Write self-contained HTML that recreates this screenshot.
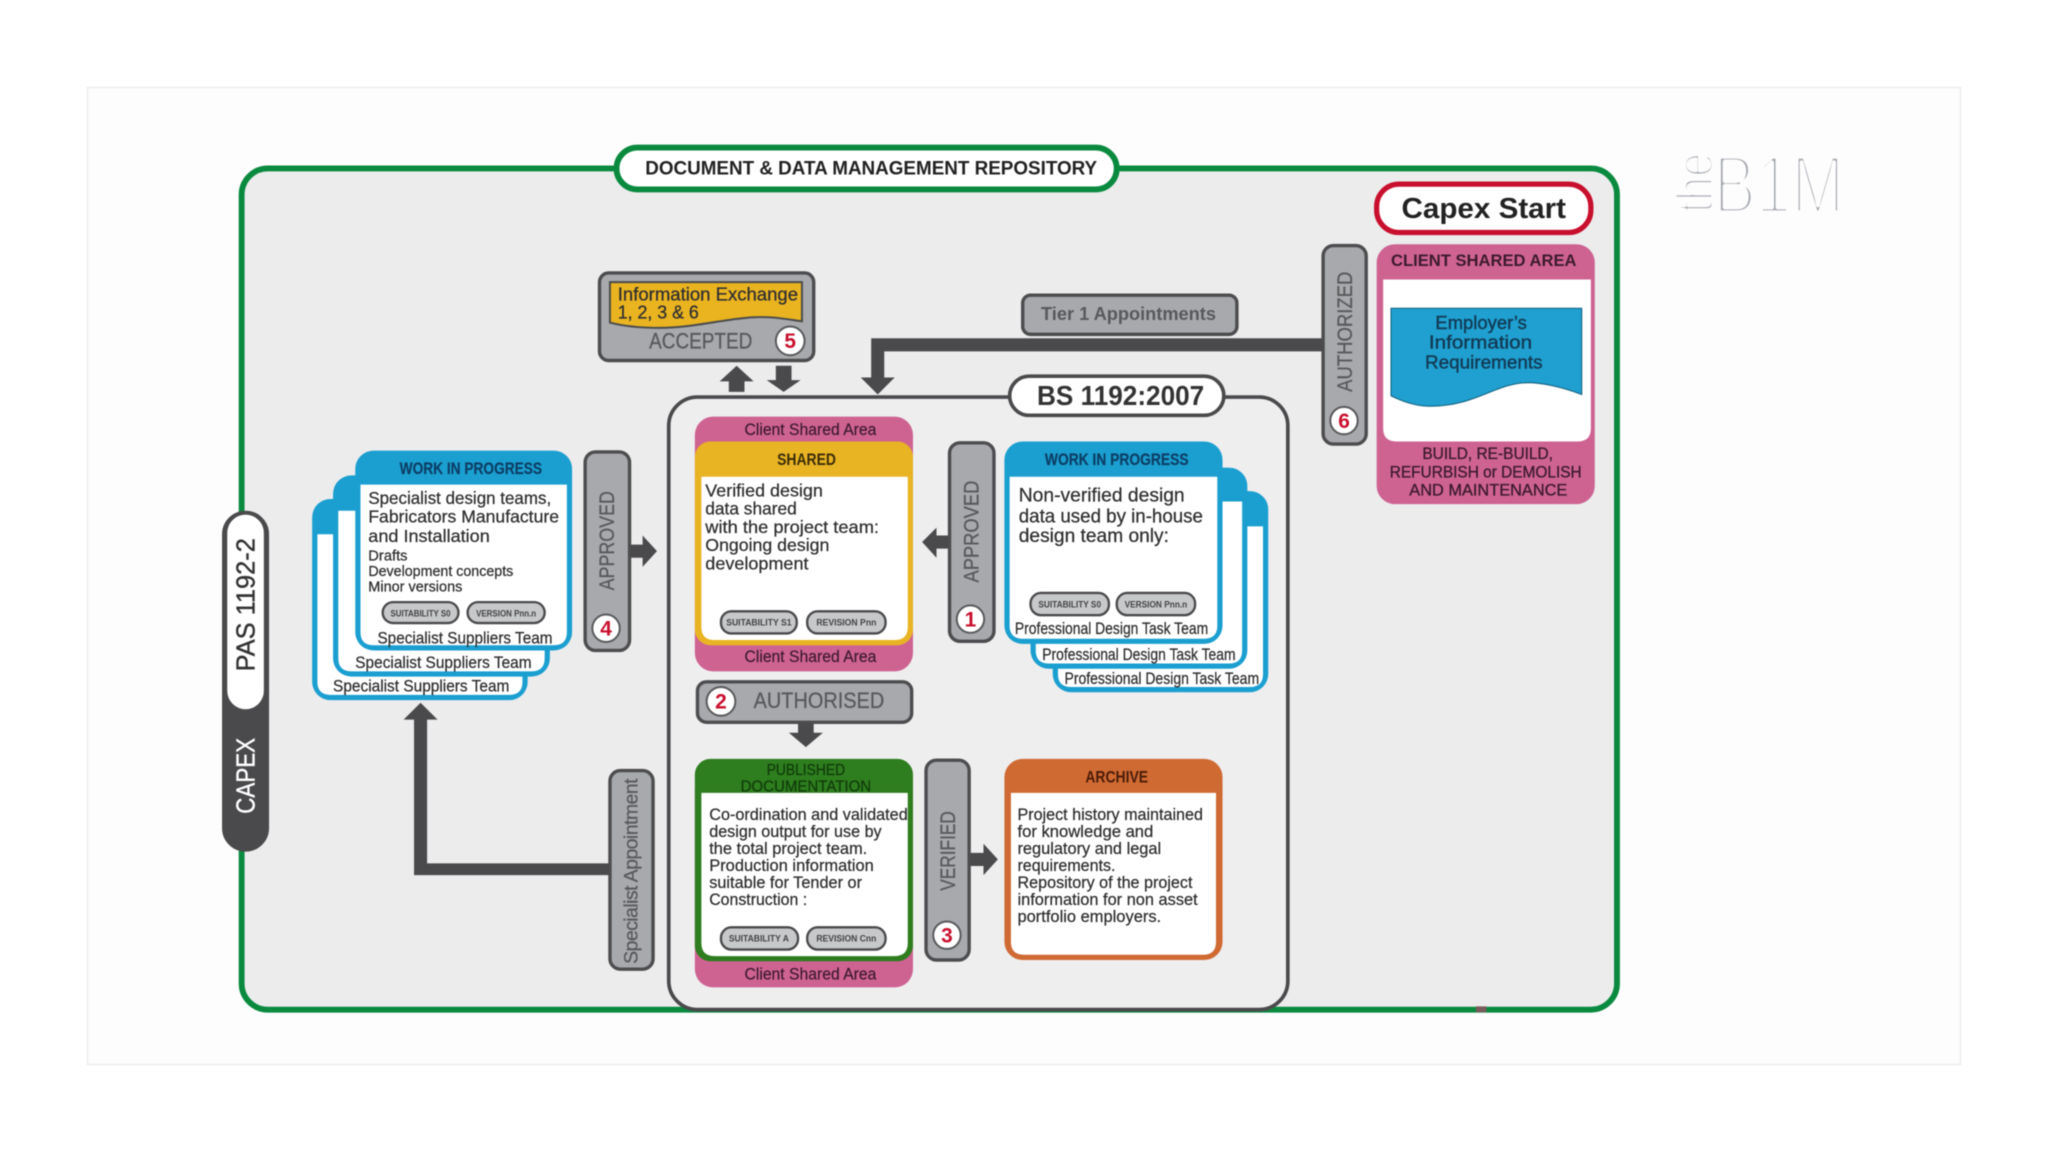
<!DOCTYPE html>
<html lang="en"><head><meta charset="utf-8"><title>Document and Data Management Repository</title>
<style>
html,body{margin:0;padding:0;background:#fff;width:2048px;height:1152px;overflow:hidden}
svg{display:block;filter:blur(.5px)}
text{font-family:"Liberation Sans",sans-serif;}
.b{font-weight:bold}
.body{font-size:13.5px;fill:#2e2e30;stroke:#2e2e30;stroke-width:.18}
.team{font-size:12.5px;fill:#2e2e30;stroke:#2e2e30;stroke-width:.18}
.csa{font-size:12.5px;fill:#3d1a2e;stroke:#3d1a2e;stroke-width:.15}
.bar{fill:#a7a9ac;stroke:#4d4d4f;stroke-width:2.6}
.lbl{fill:#58595b;font-size:16px;stroke:#58595b;stroke-width:.2}
.chip{fill:#c7c8ca;stroke:#4a4a4c;stroke-width:1.8}
.chipt{font-size:7px;font-weight:bold;fill:#444;text-anchor:middle}
.n{font-size:16px;font-weight:bold;fill:#c8102e;text-anchor:middle}
.c{fill:#fff;stroke:#58595b;stroke-width:1.5}
.ar{fill:#4a4a4c}
.blue{fill:#1b9fd0}
.wht{fill:#fff}
.wip{font-size:12.5px;fill:#0c3f66;stroke:#0c3f66;stroke-width:.15}
</style></head><body>
<svg xmlns="http://www.w3.org/2000/svg" width="2048" height="1152" viewBox="0 0 1568 882">
<rect width="1568" height="882" fill="#fff"/>
<rect x="67" y="67" width="1434" height="748" fill="#fdfdfd" stroke="#ebebeb" stroke-width="1"/>

<!-- logo -->
<text x="1312" y="163" font-size="63" fill="#a8abb2" stroke="#fdfdfd" stroke-width="4" stroke-linejoin="round" textLength="100" lengthAdjust="spacingAndGlyphs">B1M</text>
<text transform="translate(1311,163) rotate(-90)" font-size="40" fill="#a8abb2" stroke="#fdfdfd" stroke-width="2.400" stroke-linejoin="round" textLength="46" lengthAdjust="spacingAndGlyphs">the</text>

<!-- frame -->
<rect x="185" y="129" width="1053" height="644" rx="20" fill="#ececed" stroke="#0a8a3f" stroke-width="4.5"/>
<rect x="1130" y="770.5" width="8" height="4.5" fill="#7a5a5a"/>
<rect x="472" y="113" width="383" height="32" rx="16" fill="#fff" stroke="#0a8a3f" stroke-width="4.5"/>
<text class="b" x="667" y="133.5" font-size="14.5" fill="#222" text-anchor="middle" textLength="346" lengthAdjust="spacingAndGlyphs">DOCUMENT &amp; DATA MANAGEMENT REPOSITORY</text>

<!-- Capex start -->
<rect x="1054" y="141" width="164" height="37" rx="17" fill="#fff" stroke="#c8102e" stroke-width="4"/>
<text class="b" x="1136" y="167" font-size="22" fill="#222" text-anchor="middle" textLength="126" lengthAdjust="spacingAndGlyphs">Capex Start</text>

<!-- client shared area right -->
<rect x="1054" y="187" width="167" height="199" rx="14" fill="#ce6392"/>
<path class="wht" d="M1059 214H1218V328Q1218 338 1208 338H1069Q1059 338 1059 328Z"/>
<text class="b" x="1136" y="203.500" font-size="13" fill="#3d1a2e" text-anchor="middle" textLength="142" lengthAdjust="spacingAndGlyphs">CLIENT SHARED AREA</text>
<path d="M1065 236H1211V302C1195 296 1180 293 1170 293C1145 293 1130 311 1095 311C1085 311 1075 308 1065 303Z" fill="#1fa0d0" stroke="#13607f" stroke-width=".8"/>
<g font-size="14" fill="#123a55" stroke="#123a55" stroke-width=".3" text-anchor="middle">
<text x="1134" y="252" textLength="70" lengthAdjust="spacingAndGlyphs">Employer’s</text>
<text x="1133.500" y="267" textLength="79" lengthAdjust="spacingAndGlyphs">Information</text>
<text x="1136" y="282" textLength="90" lengthAdjust="spacingAndGlyphs">Requirements</text>
</g>
<g font-size="12.500" fill="#3d1a2e" stroke="#3d1a2e" stroke-width=".25" text-anchor="middle">
<text x="1139" y="351.500" textLength="100" lengthAdjust="spacingAndGlyphs">BUILD, RE-BUILD,</text>
<text x="1137.500" y="365.500" textLength="147" lengthAdjust="spacingAndGlyphs">REFURBISH or DEMOLISH</text>
<text x="1139.500" y="379.500" textLength="121" lengthAdjust="spacingAndGlyphs">AND MAINTENANCE</text>
</g>

<!-- Tier 1 connector -->
<path class="ar" d="M1014 259V269H677V289H685L672 302L659 289H667V259Z"/>
<rect class="bar" x="783" y="226" width="164" height="30" rx="6"/>
<text class="b" x="864" y="245" font-size="14" fill="#58595b" text-anchor="middle" textLength="134" lengthAdjust="spacingAndGlyphs">Tier 1 Appointments</text>

<!-- authorized -->
<rect class="bar" x="1013" y="188" width="33" height="152" rx="8"/>
<text class="lbl" transform="translate(1035,254) rotate(-90)" text-anchor="middle" textLength="92" lengthAdjust="spacingAndGlyphs">AUTHORIZED</text>
<circle class="c" cx="1029" cy="322" r="10.500"/><text class="n" x="1029" y="327.500">6</text>

<!-- accepted -->
<rect class="bar" x="459" y="209" width="164" height="67" rx="7"/>
<path d="M467 216H614V246C600 244 590 242 575 243C550 245 530 251 505 251C490 251 478 250 467 247Z" fill="#eab420" stroke="#4a4a4c" stroke-width="1.500"/>
<text x="473" y="230" font-size="14" fill="#2e2e30" textLength="138" lengthAdjust="spacingAndGlyphs" stroke="#2e2e30" stroke-width=".2">Information Exchange</text>
<text x="473" y="244" font-size="14" fill="#2e2e30" textLength="62" lengthAdjust="spacingAndGlyphs" stroke="#2e2e30" stroke-width=".2">1, 2, 3 &amp; 6</text>
<text class="lbl" x="497" y="267" font-size="17" style="font-size:17px" textLength="79" lengthAdjust="spacingAndGlyphs">ACCEPTED</text>
<circle class="c" cx="605" cy="261" r="11"/><text class="n" x="605" y="266.500">5</text>
<path class="ar" d="M564 280L577 292H570V300H558V292H551Z"/>
<path class="ar" d="M594 280H606V291H613L600 300L587 291H594Z"/>

<!-- BS box -->
<rect x="512" y="304" width="474" height="469" rx="22" fill="#eeeeef" stroke="#4a4a4c" stroke-width="2.800"/>
<rect x="773" y="288" width="164" height="30" rx="15" fill="#fff" stroke="#4a4a4c" stroke-width="2.800"/>
<text class="b" x="858" y="310" font-size="21" fill="#333" text-anchor="middle" textLength="128" lengthAdjust="spacingAndGlyphs">BS 1192:2007</text>

<!-- shared -->
<rect x="532" y="319" width="167" height="195" rx="14" fill="#ce6392"/>
<text class="csa" x="620.500" y="333" text-anchor="middle" textLength="101" lengthAdjust="spacingAndGlyphs">Client Shared Area</text>
<rect x="532" y="338" width="167" height="156" rx="12" fill="#e9b423"/>
<path class="wht" d="M537 365H695V480Q695 490 685 490H547Q537 490 537 480Z"/>
<text class="b" x="617.500" y="356" font-size="12.500" fill="#3a2c08" text-anchor="middle" textLength="45" lengthAdjust="spacingAndGlyphs">SHARED</text>
<text class="body" x="540" y="380" textLength="90" lengthAdjust="spacingAndGlyphs">Verified design</text>
<text class="body" x="540" y="394" textLength="70" lengthAdjust="spacingAndGlyphs">data shared</text>
<text class="body" x="540" y="408" textLength="133" lengthAdjust="spacingAndGlyphs">with the project team:</text>
<text class="body" x="540" y="422" textLength="95" lengthAdjust="spacingAndGlyphs">Ongoing design</text>
<text class="body" x="540" y="436" textLength="79" lengthAdjust="spacingAndGlyphs">development</text>
<rect class="chip" x="552" y="468" width="58" height="17" rx="8"/><text class="chipt" x="581" y="479" textLength="50" lengthAdjust="spacingAndGlyphs">SUITABILITY S1</text>
<rect class="chip" x="618" y="468" width="60" height="17" rx="8"/><text class="chipt" x="648" y="479" textLength="46" lengthAdjust="spacingAndGlyphs">REVISION Pnn</text>
<text class="csa" x="620.500" y="507" text-anchor="middle" textLength="101" lengthAdjust="spacingAndGlyphs">Client Shared Area</text>

<!-- authorised -->
<path class="ar" d="M611 553H623V561H630L617 572L604 561H611Z"/>
<rect class="bar" x="534" y="522" width="164" height="31" rx="7"/>
<circle class="c" cx="552" cy="537" r="11"/><text class="n" x="552" y="542.500">2</text>
<text class="lbl" x="577" y="542" style="font-size:17px" textLength="100" lengthAdjust="spacingAndGlyphs">AUTHORISED</text>

<!-- published -->
<rect x="532" y="590" width="167" height="166" rx="14" fill="#ce6392"/>
<rect x="532" y="581" width="167" height="155" rx="12" fill="#2e7d1e"/>
<path class="wht" d="M537 607H695V722Q695 732 685 732H547Q537 732 537 722Z"/>
<g font-size="12" fill="#0f3b0a" stroke="#0f3b0a" stroke-width=".15" text-anchor="middle">
<text x="617" y="593.500" textLength="60" lengthAdjust="spacingAndGlyphs">PUBLISHED</text>
<text x="617" y="606" textLength="100" lengthAdjust="spacingAndGlyphs">DOCUMENTATION</text>
</g>
<g class="body" style="font-size:13px">
<text x="543" y="628" textLength="152" lengthAdjust="spacingAndGlyphs">Co-ordination and validated</text>
<text x="543" y="641" textLength="132" lengthAdjust="spacingAndGlyphs">design output for use by</text>
<text x="543" y="654" textLength="121" lengthAdjust="spacingAndGlyphs">the total project team.</text>
<text x="543" y="667" textLength="126" lengthAdjust="spacingAndGlyphs">Production information</text>
<text x="543" y="680" textLength="117" lengthAdjust="spacingAndGlyphs">suitable for Tender or</text>
<text x="543" y="693" textLength="75" lengthAdjust="spacingAndGlyphs">Construction :</text>
</g>
<rect class="chip" x="552" y="710" width="59" height="17" rx="8"/><text class="chipt" x="581" y="721" textLength="46" lengthAdjust="spacingAndGlyphs">SUITABILITY A</text>
<rect class="chip" x="618" y="710" width="60" height="17" rx="8"/><text class="chipt" x="648" y="721" textLength="46" lengthAdjust="spacingAndGlyphs">REVISION Cnn</text>
<text class="csa" x="620.500" y="750" text-anchor="middle" textLength="101" lengthAdjust="spacingAndGlyphs">Client Shared Area</text>

<!-- verified -->
<path class="ar" d="M742 653H753V646L764 658L753 670V663H742Z"/>
<rect class="bar" x="709" y="582" width="33" height="153" rx="8"/>
<text class="lbl" transform="translate(731,651.500) rotate(-90)" text-anchor="middle" textLength="61" lengthAdjust="spacingAndGlyphs">VERIFIED</text>
<circle class="c" cx="725" cy="716" r="10.500"/><text class="n" x="725" y="721.500">3</text>

<!-- archive -->
<rect x="769" y="581" width="167" height="154" rx="14" fill="#d06a33"/>
<path class="wht" d="M774 607H931V721Q931 731 921 731H784Q774 731 774 721Z"/>
<text class="b" x="855" y="599" font-size="12.500" fill="#4a1c08" text-anchor="middle" textLength="48" lengthAdjust="spacingAndGlyphs">ARCHIVE</text>
<g class="body" style="font-size:13px">
<text x="779" y="628" textLength="142" lengthAdjust="spacingAndGlyphs">Project history maintained</text>
<text x="779" y="641" textLength="104" lengthAdjust="spacingAndGlyphs">for knowledge and</text>
<text x="779" y="654" textLength="110" lengthAdjust="spacingAndGlyphs">regulatory and legal</text>
<text x="779" y="667" textLength="75" lengthAdjust="spacingAndGlyphs">requirements.</text>
<text x="779" y="680" textLength="134" lengthAdjust="spacingAndGlyphs">Repository of the project</text>
<text x="779" y="693" textLength="138" lengthAdjust="spacingAndGlyphs">information for non asset</text>
<text x="779" y="706" textLength="110" lengthAdjust="spacingAndGlyphs">portfolio employers.</text>
</g>

<!-- right WIP stack -->
<rect class="blue" x="806" y="376" width="165" height="154" rx="14"/>
<path class="wht" d="M810 403H967V516Q967 526 957 526H820Q810 526 810 516Z"/>
<text class="team" x="815" y="523.500" textLength="149" lengthAdjust="spacingAndGlyphs">Professional Design Task Team</text>
<rect class="blue" x="789" y="358" width="166" height="154" rx="14"/>
<path class="wht" d="M793 384H951V498Q951 508 941 508H803Q793 508 793 498Z"/>
<text class="team" x="798" y="505.500" textLength="148" lengthAdjust="spacingAndGlyphs">Professional Design Task Team</text>
<rect class="blue" x="769" y="338" width="167" height="155" rx="14"/>
<path class="wht" d="M773 365H932V479Q932 489 922 489H783Q773 489 773 479Z"/>
<text class="b wip" x="855" y="356" text-anchor="middle" textLength="110" lengthAdjust="spacingAndGlyphs" style="font-weight:bold">WORK IN PROGRESS</text>
<g class="body" style="font-size:14.500px">
<text x="780" y="384" textLength="127" lengthAdjust="spacingAndGlyphs">Non-verified design</text>
<text x="780" y="400" textLength="141" lengthAdjust="spacingAndGlyphs">data used by in-house</text>
<text x="780" y="415" textLength="115" lengthAdjust="spacingAndGlyphs">design team only:</text>
</g>
<rect class="chip" x="789" y="454" width="60" height="17" rx="8"/><text class="chipt" x="819" y="465" textLength="48" lengthAdjust="spacingAndGlyphs">SUITABILITY S0</text>
<rect class="chip" x="855" y="454" width="60" height="17" rx="8"/><text class="chipt" x="885" y="465" textLength="48" lengthAdjust="spacingAndGlyphs">VERSION Pnn.n</text>
<text class="team" x="777" y="485.500" textLength="148" lengthAdjust="spacingAndGlyphs">Professional Design Task Team</text>

<!-- approved right -->
<path class="ar" d="M727 410H717V404L706 415L717 427V420H727Z"/>
<rect class="bar" x="727" y="339" width="34" height="152" rx="8"/>
<text class="lbl" transform="translate(749,407) rotate(-90)" text-anchor="middle" textLength="78" lengthAdjust="spacingAndGlyphs">APPROVED</text>
<circle class="c" cx="743" cy="474" r="10.500"/><text class="n" x="743" y="479.500">1</text>

<!-- left WIP stack -->
<rect class="blue" x="239" y="382" width="165" height="154" rx="14"/>
<path class="wht" d="M243 409H400V522Q400 532 390 532H253Q243 532 243 522Z"/>
<text class="team" x="255" y="529.500" textLength="135" lengthAdjust="spacingAndGlyphs">Specialist Suppliers Team</text>
<rect class="blue" x="255" y="364" width="166" height="154" rx="14"/>
<path class="wht" d="M259 391H417V504Q417 514 407 514H269Q259 514 259 504Z"/>
<text class="team" x="272" y="511.500" textLength="135" lengthAdjust="spacingAndGlyphs">Specialist Suppliers Team</text>
<rect class="blue" x="272" y="345" width="166" height="153" rx="14"/>
<path class="wht" d="M276 371H434V484Q434 494 424 494H286Q276 494 276 484Z"/>
<text class="b wip" x="360.500" y="363" text-anchor="middle" textLength="109" lengthAdjust="spacingAndGlyphs" style="font-weight:bold">WORK IN PROGRESS</text>
<text class="body" x="282" y="386" textLength="140" lengthAdjust="spacingAndGlyphs">Specialist design teams,</text>
<text class="body" x="282" y="400" textLength="146" lengthAdjust="spacingAndGlyphs">Fabricators Manufacture</text>
<text class="body" x="282" y="415" textLength="93" lengthAdjust="spacingAndGlyphs">and Installation</text>
<g class="body" style="font-size:11px">
<text x="282" y="429" textLength="30" lengthAdjust="spacingAndGlyphs">Drafts</text>
<text x="282" y="441" textLength="111" lengthAdjust="spacingAndGlyphs">Development concepts</text>
<text x="282" y="453" textLength="72" lengthAdjust="spacingAndGlyphs">Minor versions</text>
</g>
<rect class="chip" x="293" y="461" width="58" height="16" rx="8"/><text class="chipt" x="322" y="472" textLength="46" lengthAdjust="spacingAndGlyphs">SUITABILITY S0</text>
<rect class="chip" x="358" y="461" width="59" height="16" rx="8"/><text class="chipt" x="387.500" y="472" textLength="46" lengthAdjust="spacingAndGlyphs">VERSION Pnn.n</text>
<text class="team" x="289" y="492.500" textLength="134" lengthAdjust="spacingAndGlyphs">Specialist Suppliers Team</text>

<!-- approved left -->
<path class="ar" d="M482 417H492V410L503 422L492 434V427H482Z"/>
<rect class="bar" x="448" y="346" width="34" height="152" rx="8"/>
<text class="lbl" transform="translate(470,414) rotate(-90)" text-anchor="middle" textLength="76" lengthAdjust="spacingAndGlyphs">APPROVED</text>
<circle class="c" cx="464" cy="481" r="10.500"/><text class="n" x="464" y="486.500">4</text>

<!-- specialist appointment -->
<path class="ar" d="M468 661V670H317V551H309L322 538L335 551H327V661Z"/>
<rect class="bar" x="467" y="590" width="33" height="152" rx="8"/>
<text class="lbl" transform="translate(488,667) rotate(-90)" text-anchor="middle" style="font-size:15px" textLength="142" lengthAdjust="spacing">Specialist Appointment</text>

<!-- PAS pill -->
<rect x="171" y="392" width="34" height="259" rx="17" fill="#4a4a4c" stroke="#4a4a4c" stroke-width="2"/>
<rect x="174" y="394" width="28" height="149" rx="14" fill="#fff"/>
<text transform="translate(195,463) rotate(-90)" font-size="20" fill="#333" stroke="#333" stroke-width=".3" text-anchor="middle" textLength="102" lengthAdjust="spacingAndGlyphs">PAS 1192-2</text>
<text transform="translate(195,594) rotate(-90)" font-size="20" fill="#fff" stroke="#fff" stroke-width=".3" text-anchor="middle" textLength="58" lengthAdjust="spacingAndGlyphs">CAPEX</text>
</svg>
</body></html>
